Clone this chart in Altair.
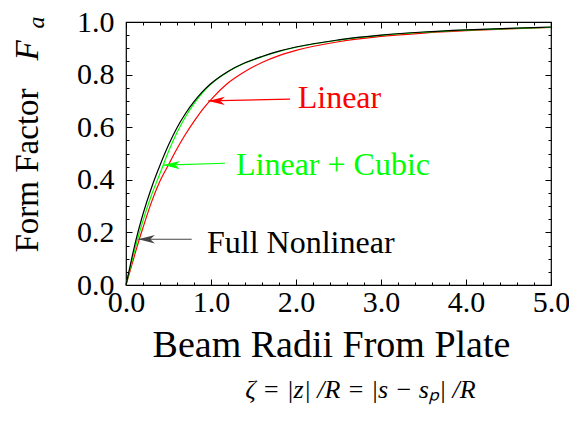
import altair as alt
import pandas as pd

# ---- data ----
zeta = [0, 0.05, 0.1, 0.15, 0.2, 0.3, 0.4, 0.5, 0.6, 0.7, 0.8, 0.9, 1.0,
        1.2, 1.4, 1.6, 1.8, 2.0, 2.5, 3.0, 3.5, 4.0, 4.5, 5.0]
f_linear = [0, 0.056, 0.112, 0.167, 0.218, 0.315, 0.395, 0.457, 0.518, 0.573,
            0.622, 0.667, 0.705, 0.768, 0.812, 0.846, 0.872, 0.892, 0.925,
            0.945, 0.958, 0.967, 0.974, 0.979]
f_cubic = [0, 0.066, 0.130, 0.190, 0.245, 0.342, 0.424, 0.508, 0.580, 0.640,
           0.690, 0.731, 0.764, 0.811, 0.844, 0.868, 0.888, 0.904, 0.931,
           0.949, 0.961, 0.969, 0.975, 0.980]
f_full = [0, 0.075, 0.148, 0.212, 0.270, 0.370, 0.455, 0.532, 0.598, 0.652,
          0.697, 0.735, 0.766, 0.812, 0.845, 0.869, 0.889, 0.905, 0.932,
          0.950, 0.962, 0.970, 0.976, 0.981]

x_major = [0, 1, 2, 3, 4, 5]
x_minor = [0.2, 0.4, 0.6, 0.8, 1.2, 1.4, 1.6, 1.8, 2.2, 2.4, 2.6, 2.8,
           3.2, 3.4, 3.6, 3.8, 4.2, 4.4, 4.6, 4.8]
y_major = [0, 0.2, 0.4, 0.6, 0.8, 1.0]
y_minor = [0.05, 0.1, 0.15, 0.25, 0.3, 0.35, 0.45, 0.5, 0.55, 0.65, 0.7,
           0.75, 0.85, 0.9, 0.95]

label_text = ["Linear", "Linear + Cubic", "Full Nonlinear"]
label_x = [2.02, 1.294, 0.953]
label_y = [0.673, 0.418, 0.122]
label_color = ["#ff0000", "#00ff00", "#000000"]

arrow_tip_x = [0.968, 0.44, 0.145]
arrow_tip_y = [0.70, 0.456, 0.174]
arrow_tail_x = [1.93, 1.165, 0.773]
arrow_tail_y = [0.707, 0.463, 0.174]
arrow_color = ["#ff0000", "#00ff00", "#444444"]

FONT = "Liberation Serif"

df_lin = pd.DataFrame({"zeta": zeta, "F": f_linear})
df_cub = pd.DataFrame({"zeta": zeta, "F": f_cubic})
df_full = pd.DataFrame({"zeta": zeta, "F": f_full})
df_lab = pd.DataFrame({"zeta": label_x, "F": label_y, "text": label_text, "col": label_color})
df_arr = pd.DataFrame({"x1": arrow_tip_x, "y1": arrow_tip_y, "x2": arrow_tail_x,
                       "y2": arrow_tail_y, "col": arrow_color})

xs = alt.Scale(domain=[0, 5], nice=False, zero=False)
ys = alt.Scale(domain=[0, 1], nice=False, zero=False)

x_lab_axis = alt.Axis(orient="bottom", values=x_major, format=".1f", ticks=False,
                      tickSize=0, domain=False, grid=False, labelFontSize=30,
                      labelPadding=2, labelFont=FONT, labelColor="black",
                      labelFlush=False, labelOverlap=False,
                      title="Beam Radii From Plate", titleFontSize=38, titleFont=FONT,
                      titleFontWeight="normal", titleColor="black",
                      titleX=205, titleY=71, titleAlign="center",
                      titleBaseline="alphabetic")
y_lab_axis = alt.Axis(orient="left", values=y_major, format=".1f", ticks=False,
                      tickSize=0, domain=False, grid=False, labelFontSize=30,
                      labelPadding=12, labelFont=FONT, labelColor="black",
                      labelFlush=False, labelOverlap=False,
                      title="Form Factor", titleFontSize=33, titleFont=FONT,
                      titleFontWeight="normal", titleColor="black", titleAngle=270,
                      titleX=-89, titleY=148, titleAlign="center",
                      titleBaseline="alphabetic")


def tick_axis(orient, values, size, **kw):
    return alt.Axis(orient=orient, values=values, labels=False, domain=False,
                    ticks=True, tickSize=size, offset=-size, tickColor="black",
                    tickWidth=1, grid=False, **kw)


def tick_layer(xaxis, yaxis):
    return alt.Chart(df_full).mark_point(opacity=0).encode(
        x=alt.X("zeta:Q", scale=xs, axis=xaxis),
        y=alt.Y("F:Q", scale=ys, axis=yaxis),
    )


t1 = tick_layer(
    tick_axis("bottom", x_major, 6, title="ζ = |z| /R = |s − sₚ| /R", titleFont=FONT,
              titleFontSize=26, titleFontStyle="italic", titleFontWeight="normal",
              titleColor="black", titleX=234, titleY=118, titleAlign="center",
              titleBaseline="alphabetic"),
    tick_axis("left", y_major, 6, title="F", titleFont=FONT, titleFontSize=33,
              titleFontStyle="italic", titleFontWeight="normal", titleColor="black",
              titleAngle=270, titleX=-95, titleY=28, titleAlign="center",
              titleBaseline="alphabetic"),
)
t2 = tick_layer(
    tick_axis("bottom", x_minor, 3, title=None),
    tick_axis("left", y_minor, 3, title="a", titleFont=FONT, titleFontSize=24,
              titleFontStyle="italic", titleFontWeight="normal", titleColor="black",
              titleAngle=270, titleX=-86, titleY=0, titleAlign="center",
              titleBaseline="alphabetic"),
)
t3 = tick_layer(tick_axis("top", x_major, 6, title=None),
                tick_axis("right", y_major, 6, title=None))
t4 = tick_layer(tick_axis("top", x_minor, 3, title=None),
                tick_axis("right", y_minor, 3, title=None))

red = alt.Chart(df_lin).mark_line(color="#ff0000", strokeWidth=1.2,
                                  interpolate="monotone").encode(
    x=alt.X("zeta:Q", scale=xs, axis=x_lab_axis),
    y=alt.Y("F:Q", scale=ys, axis=y_lab_axis),
)
green = alt.Chart(df_cub).mark_line(color="#00ff00", strokeWidth=1.2,
                                    interpolate="monotone").encode(
    x=alt.X("zeta:Q", scale=xs, axis=None),
    y=alt.Y("F:Q", scale=ys, axis=None),
)
black = alt.Chart(df_full).mark_line(color="#000000", strokeWidth=1.2,
                                     interpolate="monotone").encode(
    x=alt.X("zeta:Q", scale=xs, axis=None),
    y=alt.Y("F:Q", scale=ys, axis=None),
)

shafts = alt.Chart(df_arr).mark_rule(strokeWidth=1.2).encode(
    x=alt.X("x1:Q", scale=xs, axis=None),
    x2="x2:Q",
    y=alt.Y("y1:Q", scale=ys, axis=None),
    y2="y2:Q",
    color=alt.Color("col:N", scale=None),
)
heads = alt.Chart(df_arr).mark_point(
    shape="M0,0 L1,-0.25 L0.72,0 L1,0.25 Z", filled=True, size=1100,
    opacity=1, strokeWidth=0).encode(
    x=alt.X("x1:Q", scale=xs, axis=None),
    y=alt.Y("y1:Q", scale=ys, axis=None),
    color=alt.Color("col:N", scale=None),
)
labels = alt.Chart(df_lab).mark_text(font=FONT, fontSize=32, align="left",
                                     baseline="alphabetic").encode(
    x=alt.X("zeta:Q", scale=xs, axis=None),
    y=alt.Y("F:Q", scale=ys, axis=None),
    text="text:N",
    color=alt.Color("col:N", scale=None),
)

chart = alt.layer(red, green, black, shafts, heads, labels, t1, t2, t3, t4).resolve_axis(
    x="independent", y="independent"
).properties(
    width=425, height=263,
    autosize=alt.AutoSizeParams(type="none"),
    padding={"left": 118, "top": 14, "right": 18, "bottom": 129},
    background="white",
).configure(font=FONT).configure_text(font=FONT).configure_view(
    stroke="black", strokeWidth=1.2)

chart.save("out.html", embed_options={"renderer": "svg", "actions": False})
